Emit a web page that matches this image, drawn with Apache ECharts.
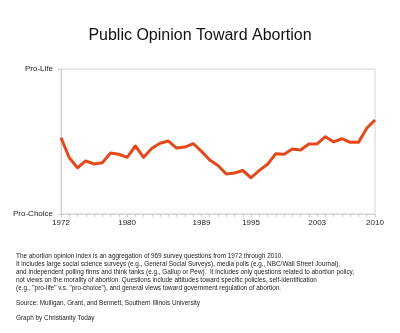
<!DOCTYPE html>
<html>
<head>
<meta charset="utf-8">
<script src="https://cdn.jsdelivr.net/npm/echarts@6/dist/echarts.min.js"></script>
<style>html,body{margin:0;padding:0;background:#fff}#c{width:400px;height:333px}</style>
</head>
<body>
<div id="c"></div>
<script>
var years = [];
for (var y = 1972; y <= 2010; y++) years.push(String(y));
var opinionIndex = [52.6, 38.8, 31.9, 36.6, 34.5, 35.4, 42.1, 41.2, 39.1, 46.9,
  39.1, 45.3, 48.8, 50.3, 45.5, 46.2, 48.6, 43.2, 37.2, 33.4,
  27.6, 28.3, 30.0, 25.0, 30.1, 34.3, 41.6, 41.2, 44.8, 44.1,
  48.3, 48.3, 53.3, 49.7, 51.9, 49.4, 49.4, 59.1, 64.8];
var xTickLabels = ['1972', '1980', '1989', '1995', '2003', '2010'];
var yTickLabels = {0: 'Pro-Choice', 100: 'Pro-Life'};
var noteLines = [
  'The abortion opinion index is an aggregation of 969 survey questions from 1972 through 2010.',
  'It includes large social science surveys (e.g., General Social Surveys), media polls (e.g., NBC/Wall Street Journal),',
  'and independent polling firms and think tanks (e.g., Gallup or Pew).  It includes only questions related to abortion policy,',
  'not views on the morality of abortion. Questions include attitudes toward specific policies, self-identification',
  '(e.g., "pro-life" v.s. "pro-choice"), and general views toward government regulation of abortion.'
];
var sourceText = 'Source: Mulligan, Grant, and Bennett, Southern Illinois University';
var creditText = 'Graph by Christianity Today';

var font = '"Liberation Sans", Helvetica, Arial, sans-serif';
var chart = echarts.init(document.getElementById('c'));
chart.setOption({
  animation: false,
  title: {
    text: 'Public Opinion Toward Abortion',
    left: 'center', top: 23,
    textStyle: {fontFamily: font, fontSize: 16, fontWeight: 'normal', color: '#111'}
  },
  grid: {left: 61, right: 25, top: 69, bottom: 119, show: true, borderColor: '#d2d2d2', borderWidth: 1},
  xAxis: {
    type: 'category', data: years, boundaryGap: false,
    axisLine: {lineStyle: {color: '#d2d2d2'}},
    axisTick: {show: true, interval: 0, length: 3, inside: false, lineStyle: {color: '#cfcfcf'}},
    axisLabel: {
      interval: 0, margin: 5, color: '#222', fontFamily: font, fontSize: 8,
      formatter: function (v) { return xTickLabels.indexOf(v) >= 0 ? v : ''; }
    },
    splitLine: {show: false}
  },
  yAxis: {
    type: 'value', min: 0, max: 100, interval: 100,
    axisLine: {show: true, lineStyle: {color: '#d2d2d2'}},
    axisTick: {show: true, length: 3, lineStyle: {color: '#cfcfcf'}},
    axisLabel: {margin: 8, color: '#222', fontFamily: font, fontSize: 8,
      formatter: function (v) { return yTickLabels[v] || ''; }},
    splitLine: {show: false}
  },
  series: [{
    type: 'line', data: opinionIndex, symbol: 'none',
    lineStyle: {color: '#e5481a', width: 3, join: 'round'}
  }],
  graphic: [
    {type: 'text', left: 16, top: 252, style: {text: noteLines.join('\n'), font: '6.4px ' + font, fill: '#222', lineHeight: 8}},
    {type: 'text', left: 16, top: 300, style: {text: sourceText, font: '6.4px ' + font, fill: '#222'}},
    {type: 'text', left: 16, top: 315, style: {text: creditText, font: '6.4px ' + font, fill: '#222'}}
  ]
});
</script>
</body>
</html>
